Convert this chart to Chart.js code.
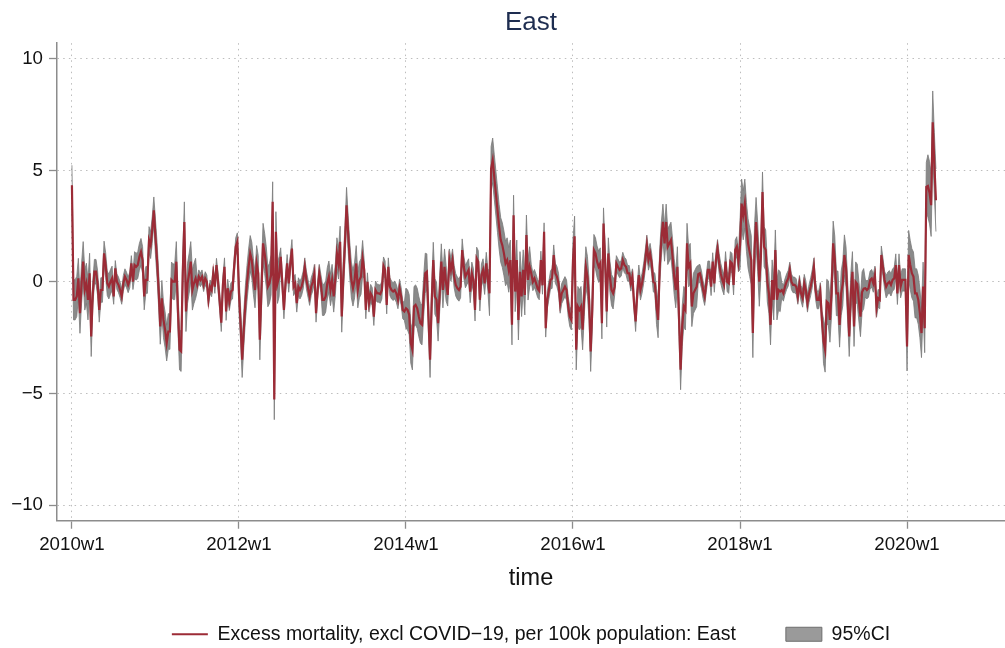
<!DOCTYPE html>
<html>
<head>
<meta charset="utf-8">
<script src="https://cdn.jsdelivr.net/npm/chart.js@4.4.1/dist/chart.umd.min.js"></script>
<style>
  html, body { margin: 0; padding: 0; background: #fff; }
  #wrap { width: 1005px; height: 648px; }
</style>
</head>
<body>
<div id="wrap"><canvas id="chart" width="1005" height="648"></canvas></div>
<script>
// weekly excess mortality (Stata %tw weeks, 52 per year)
const e2010 = [4.33,-0.80,-0.80,-0.65,0.16,-1.40,-0.06,0.91,-0.36,-0.06,
  -0.80,0.39,-2.44,-0.51,0.46,0.46,-0.06,-1.25,-0.36,-0.36,
  1.28,0.76,-0.06,-0.21,0.01,0.16,-0.65,0.61,0.01,-0.13,
  -0.36,-0.65,-0.06,0.24,0.09,-0.13,0.09,0.83,0.01,0.76,
  0.68,0.76,1.13,1.35,0.98,-0.65,0.09,0.09,1.88,1.65,
  2.32,3.21];
const e2011 = [2.02,0.98,-0.36,-1.99,-0.73,-1.70,-2.14,-2.74,-2.22,-2.22,
  0.09,0.01,0.01,0.91,-1.25,-3.04,-3.11,0.39,2.69,-1.32,
  -0.06,0.39,0.91,-0.36,-0.06,0.16,-0.13,0.24,0.09,0.24,
  -0.13,0.16,0.01,-0.80,-0.21,-0.36,0.39,-0.21,0.76,0.01,
  -0.88,-1.82,-0.13,0.68,-1.32,-0.28,-0.88,-0.43,-0.36,0.68,
  1.58,1.80];
const e2012 = [-0.51,-1.85,-3.48,-2.14,-0.95,-0.06,0.68,1.28,0.98,0.24,
  -0.36,0.83,0.39,-2.59,-0.36,1.73,1.28,0.68,-0.21,-0.06,
  0.31,3.59,-5.27,2.25,-0.06,0.24,1.13,-0.06,-1.25,-0.06,
  0.83,-0.06,0.83,1.50,-0.21,-0.06,-0.95,-0.21,-0.36,-0.21,
  0.09,0.68,0.09,-0.28,-0.65,-0.21,0.01,0.39,-1.40,-0.36,
  0.39,-0.06];
const e2013 = [-0.80,-0.80,-0.65,-0.06,0.24,-0.36,0.09,-0.65,0.09,1.28,
  0.83,1.80,-1.55,0.24,1.73,3.44,2.17,0.98,0.09,-0.28,
  0.09,0.83,-0.36,0.09,0.24,1.06,0.54,-1.25,0.01,-0.95,
  -0.51,-0.65,-1.55,-0.36,-0.50,-0.51,-0.55,-0.36,0.72,0.54,
  -1.03,0.68,-0.21,-0.36,-0.43,-0.36,-0.51,-0.80,-0.28,-0.65,
  -1.25,-1.32];
const e2014 = [-1.18,-1.25,-1.47,-2.74,-3.04,-1.10,-1.03,-1.18,-1.55,-1.85,
  -1.92,-0.65,0.39,0.46,-1.55,-3.48,-0.95,0.98,-0.65,-0.80,
  -1.85,-0.51,0.91,-0.36,0.68,-0.06,-0.58,0.98,0.54,0.98,
  0.24,-0.13,-0.28,-0.36,-0.21,1.43,0.68,0.24,0.39,0.54,
  -0.43,0.39,0.09,-1.25,1.06,0.91,-0.80,0.31,0.54,-0.06,
  0.83,0.09];
const e2015 = [-0.51,5.07,5.45,4.70,3.96,3.21,2.47,1.88,1.65,1.28,
  0.83,0.98,0.54,0.98,-1.92,2.99,-0.43,0.98,-1.70,0.46,
  -0.65,0.54,-0.58,2.10,0.09,0.68,0.39,0.01,0.16,-0.05,
  -0.30,-0.40,0.98,-0.15,2.25,-2.07,-0.80,-0.36,0.09,0.16,
  1.21,0.39,0.24,-0.06,-0.95,-0.51,-0.36,-0.21,-0.36,-1.10,
  -1.55,-1.70];
const e2016 = [0.98,2.05,-3.04,-1.10,-1.25,-1.10,-2.14,-0.65,0.68,0.24,
  -0.80,-3.11,-1.25,1.43,1.28,0.91,0.68,0.83,-1.85,2.62,
  0.98,-1.32,1.28,0.24,-0.36,-0.51,-0.21,0.83,0.68,0.54,
  0.61,0.98,0.76,0.68,0.39,0.39,-0.06,0.24,-0.95,-1.77,
  -0.51,0.31,-0.36,-0.06,0.39,0.98,1.65,0.98,1.28,0.83,
  0.01,-0.06];
const e2017 = [-1.10,-1.70,0.68,1.88,2.69,1.73,2.69,1.58,1.73,1.88,
  1.13,0.24,-0.36,0.68,-1.55,-3.93,-1.99,-1.10,-1.25,1.73,
  0.68,0.83,-1.10,-0.51,-0.36,-0.21,0.35,0.39,0.10,-0.35,
  -0.65,-0.06,0.54,0.54,-0.21,0.91,-0.06,0.98,1.50,0.83,
  0.39,0.09,-0.13,0.91,0.01,-0.06,0.91,0.83,-0.13,1.43,
  1.58,0.91];
const e2018 = [1.65,3.51,2.99,3.51,2.47,1.73,1.35,0.98,-2.29,1.43,
  2.69,1.58,0.01,1.13,4.03,1.58,1.43,0.01,-0.51,-1.92,
  0.09,-0.80,1.43,-0.80,-0.36,-0.43,-0.36,-0.51,-0.21,0.01,
  0.16,0.54,0.01,-0.13,-0.13,-0.21,-0.65,-0.06,-0.51,-0.73,
  -0.06,-0.36,-0.95,-0.51,-0.21,0.16,0.68,-0.36,-0.80,-0.80,
  -0.43,-1.70];
const e2019 = [-2.66,-3.04,-0.88,-0.95,-1.70,-0.51,1.73,1.06,-0.51,-0.51,
  -1.92,-0.51,-0.06,1.21,0.68,-0.80,-2.44,-0.51,0.46,-1.99,
  0.00,-0.10,-0.85,-1.55,-0.45,-0.30,-0.28,-0.36,-0.28,0.09,
  0.16,-0.06,0.31,-1.18,-0.73,-0.80,1.21,0.68,0.09,-0.21,
  -0.06,0.01,-0.13,0.09,0.16,0.76,-0.51,0.76,-0.21,0.09,
  0.09,0.09];
const e2020 = [-2.89,1.21,0.76,0.39,0.24,-0.51,-0.51,-0.80,-1.40,-2.29,
  -0.21,-2.07,4.26,4.30,4.00,3.44,7.16,5.30,3.66];

// half width of the 95% CI, one value per quarter (13 weeks)
const ciHalf = [0.9,0.55,0.35,0.6, 0.8,0.9,0.3,0.4, 0.8,0.9,0.4,0.4,
  0.7,0.8,0.4,0.4, 0.9,0.8,0.5,0.5, 1.0,0.9,0.4,0.45, 0.9,0.7,0.35,0.45,
  0.8,0.9,0.4,0.45, 1.1,0.9,0.35,0.4, 1.0,0.9,0.4,0.5, 1.1,1.4];

const xTickWeeks = [0, 104, 208, 312, 416, 520];
const xTickLabels = ['2010w1', '2012w1', '2014w1', '2016w1', '2018w1', '2020w1'];
const yTickValues = [-10, -5, 0, 5, 10];

const excess = [].concat(e2010, e2011, e2012, e2013, e2014, e2015, e2016, e2017, e2018, e2019, e2020);
const lineData = excess.map((v, i) => ({ x: i, y: v }));
const lowData = excess.map((v, i) => ({ x: i, y: v - ciHalf[Math.floor(i / 13)] }));
const highData = excess.map((v, i) => ({ x: i, y: v + ciHalf[Math.floor(i / 13)] }));

const RED = '#9c2b36';
const BAND = 'rgb(138,138,138)';
const BAND_EDGE = '#7a7a7a';
const AXIS = '#8c8c8c';
const FONT = "'Liberation Sans', Arial, sans-serif";
const LEGEND_TEXT = 'Excess mortality, excl COVID\u221219, per 100k population: East';

const ctx = document.getElementById('chart').getContext('2d');
new Chart(ctx, {
    type: 'line',
    data: {
        datasets: [
            {
                label: LEGEND_TEXT,
                data: lineData,
                borderColor: RED,
                backgroundColor: RED,
                borderWidth: 2.2,
                pointRadius: 0,
                tension: 0,
                fill: false
            },
            {
                label: 'ci low',
                data: lowData,
                borderColor: BAND_EDGE,
                borderWidth: 0.8,
                pointRadius: 0,
                tension: 0,
                fill: false
            },
            {
                label: '95%CI',
                data: highData,
                borderColor: BAND_EDGE,
                backgroundColor: BAND,
                borderWidth: 0.8,
                pointRadius: 0,
                tension: 0,
                fill: '-1'
            }
        ]
    },
    options: {
        responsive: false,
        animation: false,
        events: [],
        layout: { padding: { left: 0, right: 0, top: 0, bottom: -6 } },
        plugins: {
            tooltip: { enabled: false },
            title: {
                display: true,
                fullSize: false,
                text: 'East',
                color: '#1e2d50',
                font: { family: FONT, size: 26, weight: 'normal' },
                padding: { top: 7.5, bottom: 4.5 }
            },
            legend: {
                display: true,
                fullSize: false,
                position: 'bottom',
                labels: {
                    font: { family: FONT, size: 19.5 },
                    color: '#111',
                    usePointStyle: true,
                    pointStyleWidth: 36,
                    boxHeight: 14,
                    padding: 50,
                    generateLabels: function () {
                        return [
                            { text: LEGEND_TEXT,
                              pointStyle: 'line', strokeStyle: RED, fillStyle: RED, lineWidth: 2.2,
                              hidden: false, datasetIndex: 0, fontColor: '#111' },
                            { text: '95%CI', pointStyle: 'rect', strokeStyle: '#6e6e6e', fillStyle: '#9a9a9a',
                              lineWidth: 1, hidden: false, datasetIndex: 2, fontColor: '#111' }
                        ];
                    }
                }
            }
        },
        scales: {
            x: {
                type: 'linear',
                min: -9.3,
                max: 581,
                afterBuildTicks: function (scale) {
                    scale.ticks = xTickWeeks.map(v => ({ value: v }));
                },
                afterFit: function (scale) { scale.height = 53.75; },
                ticks: {
                    autoSkip: false,
                    maxRotation: 0,
                    padding: 5,
                    color: '#111',
                    font: { family: FONT, size: 18.7 },
                    callback: function (value, index) { return xTickLabels[index]; }
                },
                grid: {
                    color: '#bdbdbd',
                    lineWidth: 1,
                    tickLength: 8,
                    tickColor: AXIS,
                    tickWidth: 1.3,
                    tickBorderDash: []
                },
                border: { display: true, color: AXIS, width: 1.5, dash: [1.5, 4.2] },
                title: {
                    display: true,
                    text: 'time',
                    color: '#111',
                    font: { family: FONT, size: 23.5 },
                    padding: { top: 0, bottom: -18 }
                }
            },
            y: {
                type: 'linear',
                min: -10.7,
                max: 10.7,
                afterBuildTicks: function (scale) {
                    scale.ticks = yTickValues.map(v => ({ value: v }));
                },
                afterFit: function (scale) { scale.width = 57; },
                ticks: {
                    padding: 6,
                    color: '#111',
                    font: { family: FONT, size: 18.7 },
                    callback: function (value) {
                        return value < 0 ? '\u2212' + Math.abs(value) : String(value);
                    }
                },
                grid: {
                    color: '#bdbdbd',
                    lineWidth: 1,
                    tickLength: 8,
                    tickColor: AXIS,
                    tickWidth: 1.3,
                    tickBorderDash: []
                },
                border: { display: true, color: AXIS, width: 1.5, dash: [1.5, 4.2] }
            }
        }
    }
});
</script>
</body>
</html>
